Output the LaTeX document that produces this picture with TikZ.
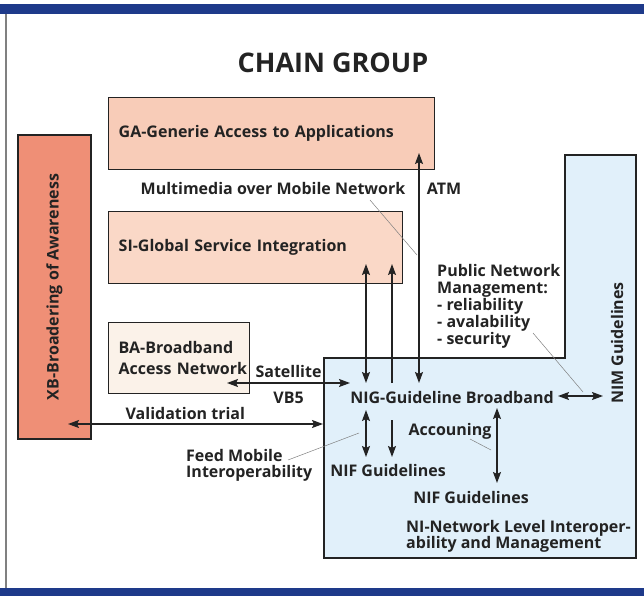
\documentclass[tikz,border=0pt]{standalone}
\usepackage{fontspec}
\setmainfont{Open Sans}
\usetikzlibrary{arrows.meta, positioning, calc}
\definecolor{chainblue}{RGB}{30, 58, 138}
\definecolor{gapink}{RGB}{248, 204, 184}
\definecolor{sipink}{RGB}{250, 216, 199}
\definecolor{bacream}{RGB}{251, 242, 233}
\definecolor{xbcoral}{RGB}{239, 143, 118}
\definecolor{niblue}{RGB}{225, 240, 250}
\definecolor{inkgray}{RGB}{35, 35, 35}
\newcommand{\boxfont}{\fontsize{16}{17}\selectfont\bfseries}
\tikzset{
    box/.style={
        rectangle, draw=inkgray, line width=1.4pt, anchor=north west,
        inner xsep=10pt, inner ysep=0pt, align=left, font=\boxfont, text=inkgray
    },
    gabox/.style={box, fill=gapink},
    sibox/.style={box, fill=sipink},
    babox/.style={box, fill=bacream},
    xbbox/.style={box, fill=xbcoral, anchor=center, align=center},
    nibox/.style={draw=inkgray, fill=niblue, line width=1.4pt},
    txt/.style={font=\boxfont, text=inkgray, inner sep=0pt},
    titletxt/.style={font=\fontsize{27}{30}\selectfont\bfseries, text=inkgray},
    arrow/.style={-{Stealth[length=11pt, width=8pt, inset=2pt]}, line width=1.4pt, draw=inkgray},
    dblarrow/.style={{Stealth[length=11pt, width=8pt, inset=2pt]}-{Stealth[length=11pt, width=8pt, inset=2pt]}, line width=1.4pt, draw=inkgray},
    leader/.style={line width=0.5pt, draw=gray},
}
\begin{document}
\begin{tikzpicture}[x=1pt, y=-1pt]
    \useasboundingbox (0,0) rectangle (644,596);
    % frame
    \fill[chainblue] (0,4) rectangle (644,14);
    \fill[chainblue] (0,588) rectangle (644,596);
    \draw[gray, line width=1.2pt] (6,14) -- (6,588);

    \node[titletxt] (title) at (333,63) {CHAIN GROUP};

    % boxes
    \node[gabox, minimum width=326pt, minimum height=72pt, text width=306pt] (ga) at (108,97) {GA-Generie Access to Applications};
    \node[sibox, minimum width=294pt, minimum height=72pt, text width=274pt] (si) at (108,211) {SI-Global Service Integration};
    \node[babox, minimum width=141pt, minimum height=71pt, text width=121pt] (ba) at (108,322) {\mbox{BA-Broadband}\\[4pt]\mbox{Access Network}};
    \node[xbbox, rotate=90, minimum width=304pt, minimum height=73pt] (xb) at (54.5,287) {XB-Broadering of Awareness};
    \draw[nibox] (324,358) -- (565,358) -- (565,155) -- (636,155) -- (636,558) -- (324,558) -- cycle;

    % texts
    \node[txt] (mobile) at (273,188) {Multimedia over Mobile Network};
    \node[txt] (atm) at (444,189) {ATM};
    \node[txt, align=left, anchor=west] (pnm) at (437,306) {Public Network\\Management:\\- reliability\\- avalability\\- security};
    \node[txt] (nig) at (452,397) {NIG-Guideline Broadband};
    \node[txt, rotate=90] (nim) at (617,343) {NIM Guidelines};
    \node[txt] (acc) at (450,431) {Accouning};
    \node[txt] (nif1) at (388,470) {NIF Guidelines};
    \node[txt] (nif2) at (471,497) {NIF Guidelines};
    \node[txt, align=left, anchor=west] (nitext) at (406,536) {NI-Network Level Interoper-\\[-1pt]ability and Management};
    \node[txt, align=left, anchor=west] (feed) at (186,465) {Feed Mobile\\[-1pt]Interoperability};

    % arrow ends
    \coordinate (baSat) at (227,383);
    \coordinate (nigSat) at (350,383);
    \coordinate (xbVal) at (68,424);
    \coordinate (niVal) at (323,424);
    \coordinate (siA) at (366,264);
    \coordinate (nigA) at (366,383);
    \coordinate (siB) at (392,264);
    \coordinate (nigB) at (392,383);
    \coordinate (gaC) at (419,153);
    \coordinate (nigC) at (419,383);
    \coordinate (nigD) at (366,410);
    \coordinate (nifD) at (366,457);
    \coordinate (nigE) at (392,420);
    \coordinate (nifE) at (392,457);
    \coordinate (nigF) at (497,408);
    \coordinate (nifF) at (497,483);
    \coordinate (nigG) at (558,396);
    \coordinate (nimG) at (603,396);

    \draw[dblarrow] (baSat) -- node[txt, above=5pt] (sat) {Satellite} node[txt, below=8pt] (vb5) {VB5} (nigSat);
    \draw[dblarrow] (xbVal) -- node[txt, pos=0.46, above=4pt] (val) {Validation trial} (niVal);
    \draw[dblarrow] (siA) -- (nigA);
    \draw[arrow] (nigB) -- (siB);
    \draw[dblarrow] (gaC) -- (nigC);
    \draw[dblarrow] (nigD) -- (nifD);
    \draw[arrow] (nigE) -- (nifE);
    \draw[dblarrow] (nigF) -- (nifF);
    \draw[dblarrow] (nigG) -- (nimG);

    % leader lines
    \coordinate (mobileEnd) at (370,200);
    \coordinate (atmLine) at (417,255);
    \coordinate (pnmEnd) at (533,333);
    \coordinate (nimLine) at (583,392);
    \coordinate (feedEnd) at (288,460);
    \coordinate (feedLine) at (359,433);
    \coordinate (accEnd) at (470,439);
    \coordinate (accLine) at (491,450);
    \draw[leader] (mobileEnd) -- (atmLine);
    \draw[leader] (pnmEnd) -- (nimLine);
    \draw[leader] (feedEnd) -- (feedLine);
    \draw[leader] (accEnd) -- (accLine);
\end{tikzpicture}
\end{document}
